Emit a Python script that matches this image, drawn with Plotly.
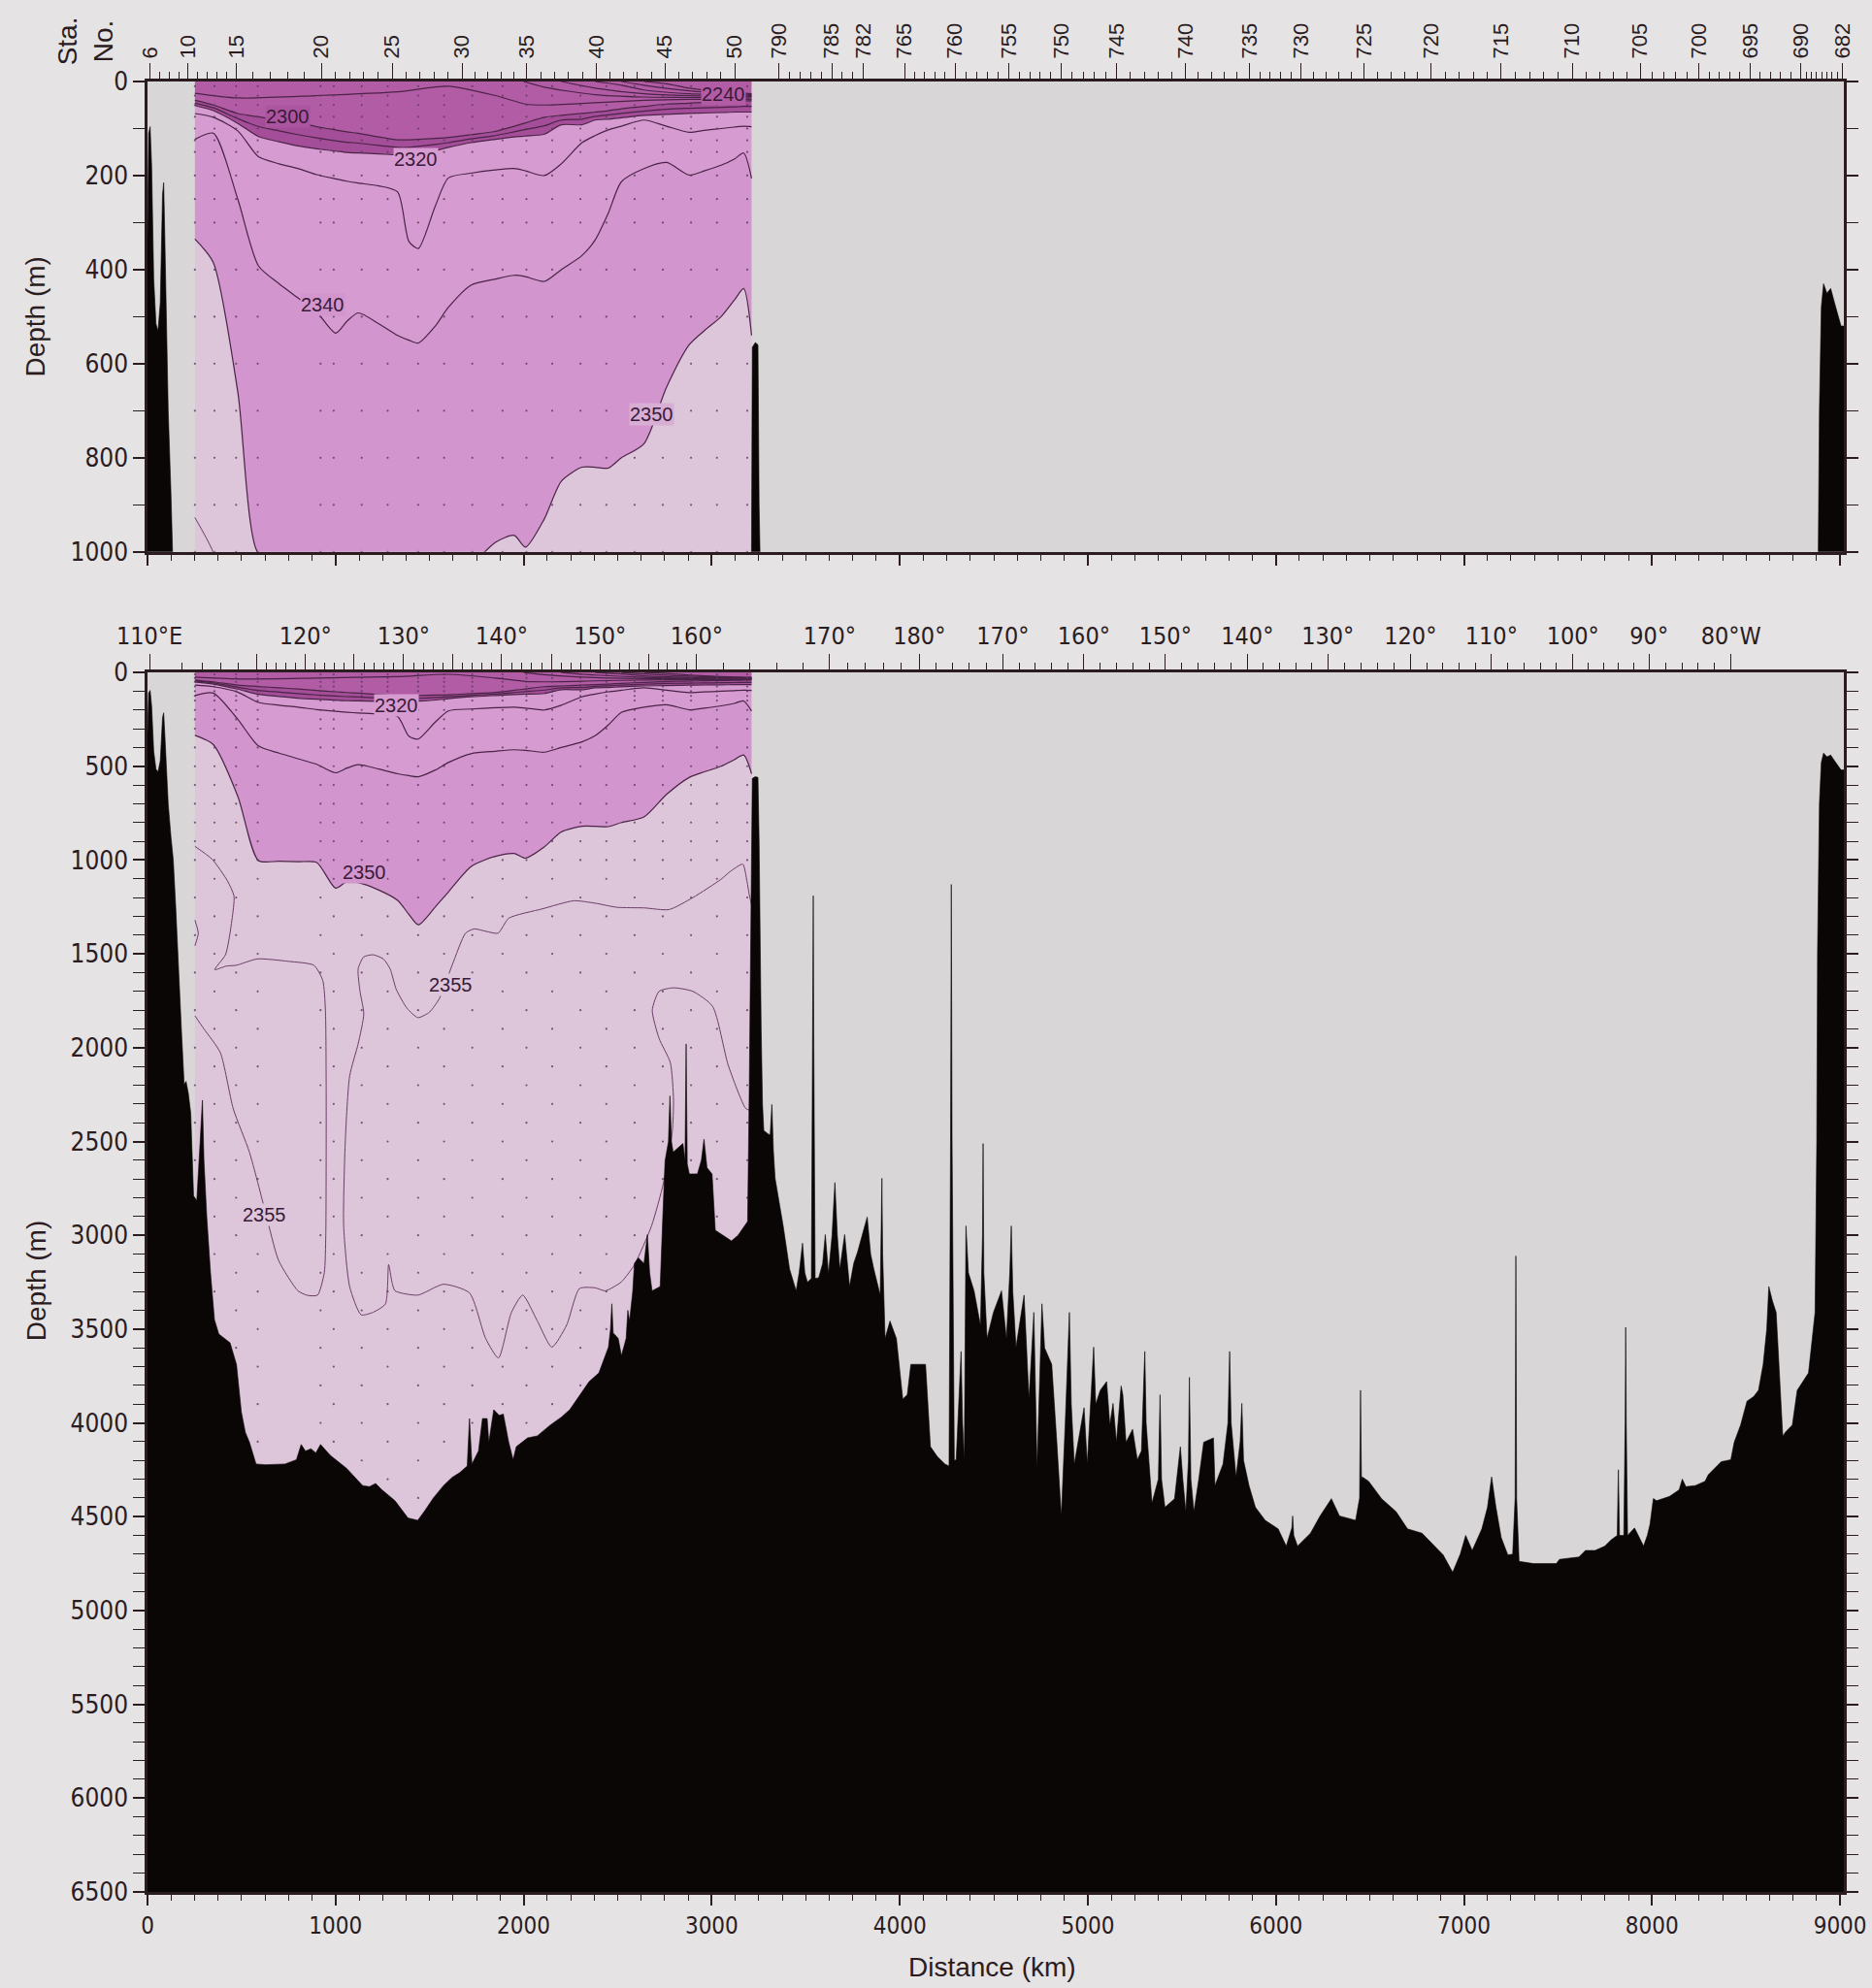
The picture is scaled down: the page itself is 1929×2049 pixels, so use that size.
import numpy as np
import plotly.graph_objects as go

# ---------------- station / longitude axes ----------------
STATION_LABELS = ["6", "10", "15", "20", "25", "30", "35", "40", "45", "50",
                  "790", "785", "782", "765", "760", "755", "750", "745", "740", "735",
                  "730", "725", "720", "715", "710", "705", "700", "695", "690", "682"]
STATION_NUM = [6, 10, 15, 20, 25, 30, 35, 40, 45, 50,
               790, 785, 782, 765, 760, 755, 750, 745, 740, 735,
               730, 725, 720, 715, 710, 705, 700, 695, 690, 682]
STATION_KM = [13, 216, 472, 924, 1301, 1672, 2016, 2387, 2751, 3122,
              3358, 3638, 3806, 4025, 4295, 4579, 4858, 5154, 5520, 5860,
              6135, 6470, 6825, 7198, 7576, 7937, 8250, 8522, 8792, 9013]

LON_LABELS = ["110°E", "120°", "130°", "140°", "150°", "160°", "170°", "180°", "170°",
              "160°", "150°", "140°", "130°", "120°", "110°", "100°", "90°", "80°W"]
LON_DEG = [110, 120, 130, 140, 150, 160, 170, 180, 190, 200, 210, 220, 230, 240, 250, 260, 270, 280]
LON_KM = [11, 840, 1362, 1883, 2406, 2920, 3627, 4104, 4548, 4979, 5412, 5848, 6276, 6715,
          7146, 7579, 7984, 8420]
LON_FINE_DEG = [110, 111, 112, 113, 114, 115, 120, 125, 130, 135, 140, 145, 150, 155, 160]
LON_FINE_KM = [11, 181, 294, 392, 481, 580, 840, 1099, 1362, 1622, 1883, 2150, 2406, 2663, 2920]

# ---------------- bathymetry (distance km, depth m) ----------------
BATHY_KM = [0, 6, 14, 22, 33, 45, 56, 68, 80, 86, 92, 110, 125, 137, 150, 165, 180, 195, 205, 217,
            230, 245, 262, 280, 292, 300, 315, 335, 356, 379, 410, 439, 473, 499, 520, 542, 577, 628,
            731, 792, 817, 840, 869, 895, 920, 972, 1058, 1144, 1180, 1213, 1247, 1316, 1385, 1437,
            1471, 1520, 1574, 1620, 1660, 1700, 1712, 1725, 1760, 1781, 1806, 1815, 1841, 1870, 1892,
            1920, 1944, 1961, 2021, 2073, 2142, 2200, 2245, 2300, 2348, 2400, 2451, 2462, 2469, 2476,
            2503, 2520, 2545, 2554, 2563, 2580, 2589, 2610, 2640, 2658, 2670, 2683, 2726, 2740, 2752,
            2770, 2778, 2786, 2795, 2847, 2858, 2864, 2870, 2881, 2924, 2945, 2959, 2975, 3002, 3019,
            3060, 3105, 3140, 3174, 3191, 3200, 3206, 3212, 3216, 3232, 3246, 3252, 3258, 3263, 3270,
            3277, 3300, 3311, 3320, 3328, 3337, 3360, 3380, 3414, 3449, 3465, 3483, 3495, 3509, 3530,
            3537, 3540, 3543, 3550, 3569, 3590, 3604, 3621, 3640, 3655, 3668, 3681, 3707, 3733, 3755,
            3776, 3800, 3827, 3845, 3862, 3896, 3902, 3905, 3909, 3922, 3948, 3982, 4016, 4040, 4059,
            4100, 4137, 4163, 4200, 4240, 4262, 4270, 4274, 4278, 4290, 4300, 4318, 4326, 4334, 4343,
            4352, 4365, 4395, 4429, 4440, 4443, 4447, 4464, 4498, 4541, 4567, 4585, 4593, 4601, 4618,
            4661, 4687, 4713, 4730, 4745, 4756, 4770, 4808, 4835, 4859, 4880, 4902, 4912, 4928, 4980,
            4997, 5020, 5031, 5042, 5066, 5100, 5117, 5134, 5152, 5177, 5186, 5203, 5238, 5263, 5285,
            5300, 5303, 5310, 5341, 5375, 5384, 5392, 5410, 5461, 5492, 5505, 5521, 5535, 5540, 5548,
            5564, 5590, 5616, 5668, 5676, 5719, 5745, 5754, 5762, 5788, 5810, 5819, 5828, 5857, 5891,
            5943, 6012, 6055, 6085, 6089, 6095, 6115, 6184, 6235, 6295, 6338, 6424, 6445, 6450, 6455,
            6459, 6493, 6562, 6639, 6700, 6777, 6820, 6889, 6940, 6980, 7009, 7044, 7095, 7125, 7147,
            7170, 7198, 7233, 7259, 7272, 7276, 7280, 7293, 7370, 7422, 7491, 7508, 7611, 7646, 7697,
            7749, 7783, 7815, 7821, 7827, 7850, 7857, 7860, 7863, 7870, 7907, 7955, 7975, 7989, 8007,
            8024, 8093, 8144, 8161, 8180, 8230, 8282, 8299, 8368, 8419, 8437, 8471, 8505, 8540, 8566,
            8591, 8610, 8621, 8640, 8660, 8680, 8695, 8712, 8746, 8772, 8800, 8832, 8867, 8876, 8880,
            8884, 8890, 8900, 8912, 8930, 8950, 8970, 8990, 9005, 9020]
BATHY_DEPTH = [330, 110, 96, 180, 420, 515, 530, 470, 240, 215, 330, 700, 880, 1000, 1250, 1600, 1900,
               2197, 2180, 2243, 2350, 2790, 2815, 2500, 2280, 2600, 2900, 3200, 3450, 3526, 3550, 3573,
               3688, 3942, 4050, 4103, 4219, 4223, 4219, 4196, 4115, 4150, 4138, 4160, 4115, 4173, 4242,
               4334, 4340, 4323, 4357, 4415, 4507, 4519, 4473, 4400, 4334, 4290, 4265, 4230, 3977, 4219,
               4150, 3977, 3977, 4103, 3930, 3960, 3953, 4100, 4196, 4127, 4080, 4069, 4011, 3970, 3930,
               3850, 3780, 3734, 3596, 3500, 3365, 3520, 3550, 3642, 3550, 3400, 3457, 3300, 3150, 3120,
               3150, 2996, 3200, 3296, 3273, 2900, 2603, 2500, 2257, 2500, 2557, 2511, 2600, 1980, 2620,
               2673, 2673, 2600, 2488, 2640, 2673, 2973, 3000, 3030, 3000, 2950, 2926, 2200, 1500, 800,
               565, 555, 560, 900, 1500, 1900, 2300, 2442, 2460, 2465, 2303, 2550, 2696, 2830, 2950, 3180,
               3296, 3200, 3042, 3200, 3250, 3230, 2000, 1190, 2000, 3230, 3226, 3150, 2996, 3203, 3000,
               2719, 3000, 3180, 2996, 3273, 3150, 3088, 3000, 2903, 3100, 3180, 3319, 3000, 2696, 3100,
               3550, 3457, 3550, 3873, 3850, 3688, 3690, 3688, 4127, 4180, 4219, 4230, 2500, 1130, 2500,
               4200, 4196, 3800, 3619, 4000, 4200, 2950, 3200, 3296, 3480, 3000, 2511, 3200, 3550, 3411,
               3296, 3550, 3200, 2950, 3300, 3596, 3319, 3873, 3411, 4242, 3700, 3365, 3600, 3688, 4100,
               4496, 4000, 3411, 3900, 4219, 3919, 4219, 3800, 3596, 3900, 3826, 3780, 4011, 3896, 4103,
               3803, 3850, 4103, 4034, 4196, 4150, 3700, 3619, 4000, 4427, 4300, 3850, 4300, 4450, 4404,
               4127, 4300, 4473, 4200, 3757, 4300, 4473, 4300, 4103, 4080, 4334, 4219, 4000, 3619, 4000,
               4288, 4100, 3896, 4200, 4334, 4450, 4519, 4565, 4657, 4560, 4496, 4600, 4657, 4588, 4496,
               4404, 4496, 4519, 4400, 3826, 4300, 4288, 4311, 4404, 4473, 4565, 4588, 4634, 4703, 4796,
               4700, 4600, 4680, 4565, 4450, 4288, 4450, 4611, 4703, 4700, 4400, 3110, 4400, 4738, 4750,
               4750, 4750, 4727, 4715, 4680, 4680, 4657, 4623, 4600, 4250, 4600, 4600, 4000, 3490, 4000,
               4600, 4560, 4657, 4600, 4542, 4403, 4415, 4392, 4357, 4300, 4340, 4334, 4311, 4277, 4207,
               4196, 4103, 4011, 3884, 3860, 3826, 3688, 3500, 3273, 3350, 3411, 3800, 4069, 4046, 4011,
               3826, 3780, 3734, 3411, 2500, 1500, 1000, 700, 480, 430, 450, 440, 470, 500, 520, 520]

# ---------------- total alkalinity isolines (umol/kg): depth at distance ----------------
ISO_KM = [252, 350, 480, 590, 700, 800, 900, 1000, 1060, 1120, 1230, 1330, 1390, 1440, 1530, 1600,
          1720, 1850, 1950, 2010, 2110, 2200, 2310, 2380, 2450, 2520, 2640, 2760, 2880, 2960, 3050,
          3120, 3170, 3212]
ISO_2300 = [40, 50, 68, 75, 82, 88, 96, 103, 107, 110, 118, 124, 124, 123, 121, 119, 113, 106, 95, 88,
            76, 72, 68, 65, 62, 58, 53, 48, 46, 44, 43, 42, 41, 41]
ISO_2310 = [46, 56, 79, 96, 105, 113, 120, 126, 129, 131, 136, 140, 140, 138, 134, 130, 122, 115, 107,
            102, 94, 82, 80, 74, 71, 68, 63, 59, 57, 56, 55, 54, 53, 53]
ISO_2320 = [51, 62, 89, 117, 128, 137, 143, 148, 151, 152, 154, 156, 155, 153, 147, 140, 130, 123, 118,
            116, 112, 92, 92, 82, 80, 77, 72, 70, 68, 67, 66, 65, 65, 65]
ISO_2330 = [68, 76, 105, 160, 175, 185, 198, 207, 212, 216, 222, 235, 340, 355, 265, 205, 195, 188, 185,
            190, 200, 175, 130, 115, 103, 95, 82, 95, 108, 104, 100, 97, 95, 96]
ISO_2340 = [123, 110, 250, 392, 430, 460, 490, 535, 510, 492, 515, 540, 550, 556, 520, 480, 433, 420,
            412, 415, 425, 400, 370, 337, 280, 213, 185, 172, 199, 190, 178, 165, 152, 206]
ISO_2350 = [335, 385, 660, 1003, 1006, 1009, 1013, 1150, 1115, 1120, 1160, 1215, 1290, 1345, 1250, 1170,
            1035, 980, 965, 990, 930, 850, 820, 820, 822, 800, 770, 650, 560, 530, 500, 465, 440, 540]

ISO_2290_KM = [252, 480, 900, 1330, 1600, 1850, 2010, 2110, 2380, 2640, 2880, 3212]
ISO_2290 = [25, 35, 30, 22, 10, 30, 48, 50, 45, 40, 38, 38]
ISO_2280_KM = [2000, 2110, 2380, 2640, 2880, 3212]
ISO_2280 = [0, 12, 28, 33, 34, 35]
ISO_2270_KM = [2200, 2380, 2640, 2880, 3212]
ISO_2270 = [0, 14, 26, 30, 32]
ISO_2260_KM = [2380, 2520, 2640, 2880, 3212]
ISO_2260 = [0, 8, 18, 26, 30]
ISO_2250_KM = [2520, 2640, 2880, 3212]
ISO_2250 = [0, 8, 20, 28]
ISO_2240_KM = [2640, 2760, 2880, 3050, 3212]
ISO_2240 = [0, 5, 14, 22, 26]

# 2355 isolines (deep water)
ISO_2355A_KM = [252, 344, 425, 460, 449, 415, 357, 420, 471, 585, 750, 885, 932, 946, 950, 950, 948,
                940, 904, 850, 800, 697, 628, 542, 456, 387, 300, 252]
ISO_2355A = [927, 996, 1111, 1192, 1319, 1504, 1584, 1565, 1561, 1527, 1540, 1561, 1642, 1800, 2200,
             2600, 3000, 3200, 3319, 3320, 3296, 3134, 2880, 2557, 2326, 2026, 1900, 1830]
ISO_2355B_KM = [3212, 3199, 3188, 3165, 3100, 3049, 2900, 2773, 2640, 2497, 2380, 2267, 2100, 1921,
                1864, 1800, 1737, 1691, 1620, 1553, 1500, 1438, 1380, 1323, 1290, 1254, 1200, 1150,
                1120, 1130, 1150, 1120, 1075, 1052, 1043, 1075, 1136, 1200, 1265, 1282, 1300, 1316,
                1437, 1574, 1712, 1798, 1866, 1935, 1995, 2073, 2150, 2228, 2297, 2380, 2434, 2520,
                2589, 2680, 2744, 2790, 2797, 2780, 2720, 2684, 2720, 2797, 2900, 3005, 3088, 3182, 3212]
ISO_2355B = [1240, 1180, 1115, 1022, 1060, 1103, 1200, 1264, 1255, 1252, 1230, 1217, 1260, 1310, 1390,
             1380, 1367, 1390, 1560, 1736, 1810, 1840, 1790, 1690, 1580, 1527, 1505, 1516, 1580, 1700,
             1820, 1980, 2150, 2490, 2950, 3274, 3424, 3410, 3366, 3156, 3250, 3296, 3319, 3261, 3307,
             3550, 3654, 3411, 3319, 3457, 3596, 3480, 3284, 3280, 3296, 3248, 3157, 2950, 2719, 2450,
             2281, 2080, 1950, 1800, 1700, 1681, 1700, 1780, 2094, 2325, 2335]
ISO_2355C_KM = [252, 270, 252]
ISO_2355C = [1320, 1390, 1457]

# sample positions
SAMPLE_COLS_KM = [252, 356, 471, 586, 920, 990, 1139, 1277, 1439, 1577, 1727, 1888, 2015, 2152, 2302,
                  2440, 2590, 2740, 2890, 3028, 3189]
SHALLOW_BOTTLES = [10, 30, 50, 75, 100, 125, 150, 200, 250, 300, 400, 500, 600, 700, 800, 900, 1000]
DEEP_BOTTLES_EVEN = [1200, 1400, 1600, 1800, 2000, 2200, 2400, 2600, 2800, 3000, 3200, 3400, 3600,
                     3800, 4000, 4200, 4400]
DEEP_BOTTLES_ODD = [1100, 1300, 1500, 1700, 1900, 2100, 2300, 2500, 2700, 2900, 3100, 3300, 3500,
                    3700, 3900, 4100, 4300]

# ---------------- styling ----------------
COL_A = "#b25ca6"   # < 2300
COL_B = "#a44e99"   # 2300-2320
COL_C = "#d69bd1"   # 2320-2340
COL_D = "#d295cd"   # 2340-2350
COL_E = "#ddc5da"   # > 2350
LINE_COL = "#4b2347"
AX_COL = "#2b1c1f"
PAPER = "#e5e3e4"
PLOTBG = "#d9d6d8"
NUM_FONT = "Liberation Sans Narrow, DejaVu Sans Condensed, Arial Narrow, sans-serif"
TXT_FONT = "Liberation Sans, Arial, Helvetica, sans-serif"

fig = go.Figure()
SUBPLOTS = [("x", "y"), ("x2", "y2")]
SMOOTH = 0.7

for xa, ya in SUBPLOTS:
    common = dict(xaxis=xa, yaxis=ya, hoverinfo="skip", showlegend=False)
    # filled bands
    fig.add_trace(go.Scatter(x=ISO_KM, y=ISO_2300, mode="lines", fill="tozeroy", fillcolor=COL_A,
                             line=dict(width=0, shape="spline", smoothing=SMOOTH), **common))
    fig.add_trace(go.Scatter(x=ISO_KM, y=ISO_2320, mode="lines", fill="tonexty", fillcolor=COL_B,
                             line=dict(width=0, shape="spline", smoothing=SMOOTH), **common))
    fig.add_trace(go.Scatter(x=ISO_KM, y=ISO_2340, mode="lines", fill="tonexty", fillcolor=COL_C,
                             line=dict(width=0, shape="spline", smoothing=SMOOTH), **common))
    fig.add_trace(go.Scatter(x=ISO_KM, y=ISO_2350, mode="lines", fill="tonexty", fillcolor=COL_D,
                             line=dict(width=0, shape="spline", smoothing=SMOOTH), **common))
    fig.add_trace(go.Scatter(x=[ISO_KM[0], ISO_KM[-1]], y=[6600, 6600], mode="lines", fill="tonexty",
                             fillcolor=COL_E, line=dict(width=0), **common))
    # isolines
    iso_sets = [(ISO_2240_KM, ISO_2240), (ISO_2250_KM, ISO_2250), (ISO_2260_KM, ISO_2260),
                (ISO_2270_KM, ISO_2270), (ISO_2280_KM, ISO_2280), (ISO_2290_KM, ISO_2290),
                (ISO_KM, ISO_2300), (ISO_KM, ISO_2310), (ISO_KM, ISO_2320), (ISO_KM, ISO_2330),
                (ISO_KM, ISO_2340), (ISO_KM, ISO_2350)]
    for kx, dy in iso_sets:
        fig.add_trace(go.Scatter(x=kx, y=dy, mode="lines",
                                 line=dict(color=LINE_COL, width=1.2, shape="spline", smoothing=SMOOTH),
                                 **common))
    for kx, dy in [(ISO_2355A_KM, ISO_2355A), (ISO_2355B_KM, ISO_2355B), (ISO_2355C_KM, ISO_2355C)]:
        fig.add_trace(go.Scatter(x=kx, y=dy, mode="lines",
                                 line=dict(color="#6b3f67", width=1.0, shape="spline", smoothing=0.6),
                                 **common))
    # sample dots
    dx, dd = [], []
    for i, c in enumerate(SAMPLE_COLS_KM):
        bottom = np.interp(c, BATHY_KM, BATHY_DEPTH)
        deep = DEEP_BOTTLES_EVEN if i % 2 == 0 else DEEP_BOTTLES_ODD
        for d in SHALLOW_BOTTLES + deep:
            if d < bottom - 40:
                dx.append(c)
                dd.append(d)
    fig.add_trace(go.Scatter(x=dx, y=dd, mode="markers",
                             marker=dict(size=2.2, color="#5a3a58", opacity=0.8), **common))
    # bathymetry
    fig.add_trace(go.Scatter(x=BATHY_KM + [BATHY_KM[-1], BATHY_KM[0]],
                             y=BATHY_DEPTH + [6600, 6600], mode="lines", fill="toself",
                             fillcolor="#0b0606", line=dict(color="#0b0606", width=0.6), **common))

# dummy traces so the top overlay axes render
fig.add_trace(go.Scatter(x=[0], y=[0], xaxis="x3", yaxis="y", mode="markers",
                         marker=dict(opacity=0), hoverinfo="skip", showlegend=False))
fig.add_trace(go.Scatter(x=[0], y=[0], xaxis="x4", yaxis="y2", mode="markers",
                         marker=dict(opacity=0), hoverinfo="skip", showlegend=False))

# minor ticks for station axis
sta_minor = []
for (n0, k0), (n1, k1) in zip(zip(STATION_NUM, STATION_KM), zip(STATION_NUM[1:], STATION_KM[1:])):
    gap = abs(n1 - n0)
    if 1 < gap <= 8 and (n0 < 100) == (n1 < 100):
        for j in range(1, gap):
            sta_minor.append(k0 + (k1 - k0) * j / gap)

# longitude ticks
lon_major_vals = list(LON_KM) + [LON_FINE_KM[LON_FINE_DEG.index(d)] for d in (115, 125, 135, 145, 155)]
lon_major_text = list(LON_LABELS) + [""] * 5
lon_minor = [float(np.interp(d, LON_FINE_DEG, LON_FINE_KM)) for d in range(111, 160) if d % 5 != 0]
lon_minor += [float(np.interp(d, LON_DEG, LON_KM)) for d in range(162, 280, 2) if d % 10 != 0]

X_RANGE = [0, 9020]
base_x = dict(range=X_RANGE, showgrid=False, zeroline=False, showline=True, linecolor=AX_COL,
              linewidth=2.5, mirror=True, ticks="outside", tickcolor=AX_COL, tickwidth=1.5,
              ticklen=11, tickmode="array", tickvals=list(range(0, 9001, 1000)),
              minor=dict(ticks="outside", tickmode="linear", tick0=0, dtick=125, ticklen=6,
                         tickcolor=AX_COL, tickwidth=1.2),
              tickfont=dict(family=NUM_FONT, size=24, color=AX_COL))
base_y = dict(showgrid=False, zeroline=False, showline=True, linecolor=AX_COL, linewidth=2.5,
              mirror="allticks", ticks="outside", tickcolor=AX_COL, tickwidth=1.5, ticklen=12,
              tickfont=dict(family=NUM_FONT, size=26, color=AX_COL))

TOP_DOM = [0.7402, 1.0]
BOT_DOM = [0.0, 0.6736]

fig.update_layout(
    width=1929, height=2049,
    paper_bgcolor=PAPER, plot_bgcolor=PLOTBG,
    margin=dict(l=152, r=29, t=84, b=99, autoexpand=False),
    showlegend=False,
    xaxis=dict(base_x, domain=[0, 1], anchor="y", showticklabels=False),
    yaxis=dict(base_y, domain=TOP_DOM, anchor="x", range=[1000, 0], tickmode="array",
               tickvals=[0, 200, 400, 600, 800, 1000],
               minor=dict(ticks="outside", tickmode="linear", tick0=0, dtick=100, ticklen=6,
                          tickcolor=AX_COL, tickwidth=1.2)),
    xaxis2=dict(base_x, domain=[0, 1], anchor="y2", showticklabels=True),
    yaxis2=dict(base_y, domain=BOT_DOM, anchor="x2", range=[6500, 0], tickmode="array",
                tickvals=list(range(0, 6501, 500)),
                minor=dict(ticks="outside", tickmode="linear", tick0=0, dtick=100, ticklen=6,
                           tickcolor=AX_COL, tickwidth=1.2)),
    xaxis3=dict(overlaying="x", anchor="y", side="top", range=X_RANGE, showgrid=False,
                zeroline=False, showline=False, tickmode="array", tickvals=STATION_KM,
                ticktext=STATION_LABELS, tickangle=-90, ticks="outside", ticklen=18,
                tickcolor=AX_COL, tickwidth=1.3,
                minor=dict(ticks="outside", tickmode="array", tickvals=sta_minor, ticklen=9,
                           tickcolor=AX_COL, tickwidth=1.0),
                tickfont=dict(family=TXT_FONT, size=22, color=AX_COL)),
    xaxis4=dict(overlaying="x2", anchor="y2", side="top", range=X_RANGE, showgrid=False,
                zeroline=False, showline=False, tickmode="array", tickvals=lon_major_vals,
                ticktext=lon_major_text, ticks="outside", ticklen=18, tickcolor=AX_COL,
                tickwidth=1.3,
                minor=dict(ticks="outside", tickmode="array", tickvals=lon_minor, ticklen=9,
                           tickcolor=AX_COL, tickwidth=1.0),
                tickfont=dict(family=NUM_FONT, size=25, color=AX_COL)),
)

# ---------------- annotations ----------------
def lab(text, x, y, xref, yref, bg):
    fig.add_annotation(text=text, x=x, y=y, xref=xref, yref=yref, showarrow=False,
                       xanchor="center", yanchor="middle",
                       font=dict(family=TXT_FONT, size=20, color="#3a1a38"), bgcolor=bg,
                       borderpad=0)

lab("2300", 747, 75, "x", "y", "#ab55a0")
lab("2320", 1429, 166, "x", "y", COL_C)
lab("2340", 931, 474, "x", "y", COL_D)
lab("2350", 2682, 708, "x", "y", "#d8aed5")
lab("2240", 3060, 27, "x", "y", COL_A)
lab("2320", 1324, 175, "x2", "y2", COL_C)
lab("2350", 1151, 1065, "x2", "y2", COL_D)
lab("2355", 1611, 1665, "x2", "y2", COL_E)
lab("2355", 621, 2889, "x2", "y2", COL_E)

fig.add_annotation(text="Depth (m)", x=-0.0658, y=0.870, xref="paper", yref="paper", textangle=-90,
                   xanchor="center", yanchor="middle", showarrow=False,
                   font=dict(family=TXT_FONT, size=28, color=AX_COL))
fig.add_annotation(text="Depth (m)", x=-0.0658, y=0.3375, xref="paper", yref="paper", textangle=-90,
                   xanchor="center", yanchor="middle", showarrow=False,
                   font=dict(family=TXT_FONT, size=28, color=AX_COL))
fig.add_annotation(text="Distance (km)", x=0.498, y=-0.0418, xref="paper", yref="paper",
                   xanchor="center", yanchor="middle", showarrow=False,
                   font=dict(family=TXT_FONT, size=28, color=AX_COL))
fig.add_annotation(text="Sta.<br>No.", x=-0.0370, y=1.0225, xref="paper", yref="paper",
                   textangle=-90, xanchor="center", yanchor="middle", showarrow=False,
                   font=dict(family=TXT_FONT, size=28, color=AX_COL))

fig.write_html("out.html", post_script="document.body.style.margin='0px';",
               config={"displayModeBar": False})
